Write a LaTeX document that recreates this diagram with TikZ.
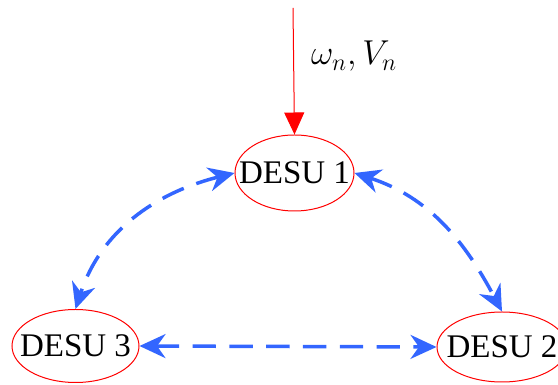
\documentclass[tikz,border=0pt]{standalone}
\usepackage{fontspec}
\setmainfont{Liberation Serif}
\usepackage{tikz}
\usetikzlibrary{arrows.meta,shapes.geometric}
\definecolor{linkblue}{HTML}{3366FF}
\definecolor{inred}{HTML}{FF0000}
\newcommand{\unitname}[1]{\makebox[0pt]{#1}}

\begin{document}
\begin{tikzpicture}[x=0.5pt,y=0.5pt,
    unit/.style={draw=inred,line width=0.5pt,ellipse,inner sep=0pt,font=\fontsize{16.5}{20}\selectfont},
    link/.style={linkblue,line width=1.75pt,dash pattern=on 11.7pt off 6.7pt,
      {Stealth[length=13pt,width=12pt]}-{Stealth[length=13pt,width=12pt]}}]
        \useasboundingbox (0,0) rectangle (558,385);
        \node[unit,minimum width=59.5pt,minimum height=38pt] (d1) at (294.5,212) {\unitname{DESU 1}};
        \node[unit,minimum width=63.5pt,minimum height=36.5pt] (d3) at (75.5,39) {\unitname{DESU 3}};
        \node[unit,minimum width=65pt,minimum height=35pt] (d2) at (502,38) {\unitname{DESU 2}};
        \coordinate (src) at (293,377);
        \node[anchor=base west,font=\fontsize{17}{20}\selectfont] (lbl) at (304,320) {$\omega_n,V_n$};
        \draw[inred,line width=0.5pt,-{Triangle[length=11pt,width=10pt]}] (src) -- (d1.north);
        \draw[link] (d1.west) to[out=194,in=72] (d3.north);
        \draw[link] (d1.east) to[out=-18,in=118] (d2.north);
        \draw[link] (d3.east) -- (d2.west);
      \end{tikzpicture}
\end{document}
